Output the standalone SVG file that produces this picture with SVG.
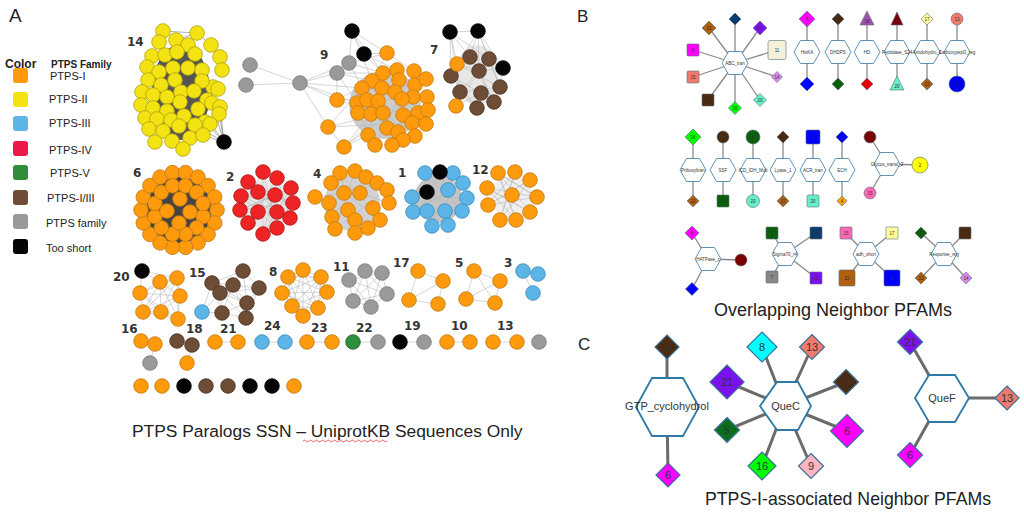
<svg xmlns="http://www.w3.org/2000/svg" xmlns:xlink="http://www.w3.org/1999/xlink" width="1024" height="517" viewBox="0 0 1024 517">
<style>
.o{fill:#FF9A0C;stroke:#C07810;stroke-width:.8}
.y{fill:#F3E312;stroke:#B0A00E;stroke-width:.8}
.b{fill:#5CB5E6;stroke:#3A8ABD;stroke-width:.8}
.r{fill:#EE2323;stroke:#A81818;stroke-width:.8}
.n{fill:#6E4D36;stroke:#48301F;stroke-width:.8}
.g{fill:#9A9A9A;stroke:#787878;stroke-width:.8}
.k{fill:#050505;stroke:#000;stroke-width:.8}
.gr{fill:#2F8E3A;stroke:#1F6427;stroke-width:.8}
.lbl{font-family:"DejaVu Sans",sans-serif;font-size:12px;font-weight:bold;fill:#333}
.leg{font-family:"Liberation Sans",Arial,sans-serif;font-size:11px;fill:#222}
.legb{font-family:"Liberation Sans",Arial,sans-serif;font-weight:bold;fill:#222}
.e{stroke:#b9b9b9;stroke-width:.6;fill:none}
.ed{stroke:#777;stroke-width:.6;fill:none}
.eb{stroke:#8a8a8a;stroke-width:1.3;fill:none}
.ec{stroke:#6b6b6b;stroke-width:3;fill:none}
.hx{fill:#fff;stroke:#4d87ad;stroke-width:.9}
.hc{fill:#fff;stroke:#2f79a6;stroke-width:1.8}
.s{stroke:#5b6b78;stroke-width:.6}
.sc{stroke:#3b6f99;stroke-width:1.2}
.t5{font-family:"Liberation Sans",Arial,sans-serif;font-size:4.5px;fill:#333;text-anchor:middle}
.t11{font-family:"Liberation Sans",Arial,sans-serif;font-size:11px;fill:#333;text-anchor:middle}
.ttl{font-family:"Liberation Sans",Arial,sans-serif;fill:#222}
</style>
<defs>
<polygon id="hb" class="hx" points="-13,0 -6.5,-11.5 6.5,-11.5 13,0 6.5,11.5 -6.5,11.5"/>
</defs>
<rect width="1024" height="517" fill="#fff"/>

<!-- panel letters and titles -->
<text class="ttl" x="9" y="22" font-size="19">A</text>
<text class="ttl" x="577" y="22" font-size="17">B</text>
<text class="ttl" x="578" y="350" font-size="17">C</text>
<text class="ttl" x="132" y="437" font-size="17.4">PTPS Paralogs SSN – UniprotKB Sequences Only</text>
<path d="M303,441 q1.5,-1.8 3,0 t3,0 t3,0 t3,0 t3,0 t3,0 t3,0 t3,0 t3,0 t3,0 t3,0 t3,0 t3,0 t3,0 t3,0 t3,0 t3,0 t3,0 t3,0 t3,0 t3,0 t3,0 t3,0 t3,0 t3,0 t3,0 t3,0 t3,0" fill="none" stroke="#e23" stroke-width=".7"/>
<text class="ttl" x="714" y="316" font-size="18">Overlapping Neighbor PFAMs</text>
<text class="ttl" x="705" y="505" font-size="17.7">PTPS-I-associated Neighbor PFAMs</text>

<!-- legend -->
<g id="legend">
<text class="legb" x="5" y="68" font-size="12">Color</text>
<text class="legb" x="51" y="68" font-size="10">PTPS Family</text>
<rect x="13" y="68" width="15" height="15" rx="3" fill="#FF9A0C"/><text class="leg" x="50" y="80">PTPS-I</text>
<rect x="13" y="92" width="15" height="15" rx="3" fill="#F3E312"/><text class="leg" x="49" y="103">PTPS-II</text>
<rect x="13" y="116" width="15" height="15" rx="3" fill="#5CB5E6"/><text class="leg" x="49" y="127">PTPS-III</text>
<rect x="13" y="141" width="15" height="15" rx="3" fill="#EC1B4B"/><text class="leg" x="49" y="154">PTPS-IV</text>
<rect x="13" y="165" width="15" height="15" rx="3" fill="#2F8E3A"/><text class="leg" x="50" y="177">PTPS-V</text>
<rect x="13" y="190" width="15" height="15" rx="3" fill="#6E4D36"/><text class="leg" x="47" y="202">PTPS-I/III</text>
<rect x="13" y="214" width="15" height="15" rx="3" fill="#9A9A9A"/><text class="leg" x="46" y="227">PTPS family</text>
<rect x="13" y="239" width="15" height="15" rx="3" fill="#050505"/><text class="leg" x="46" y="252">Too short</text>
</g>

<!-- connectors -->
<g id="connectors">
<!-- dense edge masses -->
<ellipse cx="181" cy="92" rx="29" ry="48" fill="#555"/>
<ellipse cx="385" cy="105" rx="36" ry="34" fill="#8f8f8f" opacity=".45"/>
<ellipse cx="477" cy="75" rx="22" ry="30" fill="#cfcfcf" opacity=".5"/>
<circle cx="179" cy="210" r="33" fill="#444"/>
<circle cx="267" cy="204" r="25" fill="#e8e8e8"/>
<circle cx="352" cy="203" r="28" fill="#d2d2d2"/>
<circle cx="438" cy="199" r="24" fill="#c4c4c4"/>
<circle cx="512" cy="197" r="21" fill="#efefef"/>
<!-- cluster 14 -->
<path class="ed" d="M224,142L210,123M224,142L219,113M224,142L202,135M224,142L220,107M224,142L205,122M224,142L212,103M224,142L195,125M163,31L197,33M163,31L188,45M197,33L176,40M197,33L211,45"/>
<!-- gray chain + cluster 9 -->
<path class="e" d="M250,65L300,83M246,85L300,83M300,83L337,73M300,83L349,63M300,83L337,100M300,83L357,103M300,83L362,88M300,83L328,127M337,73L349,63M337,73L383,73M337,73L372,81M349,63L387,53M349,63L383,73M352,31L364,54M352,31L349,63M352,31L383,73M352,31L372,81M352,31L387,53M364,54L387,53M364,54L383,73M364,54L397,70M349,63L362,88M337,73L357,103M337,73L337,100M328,127L362,88M328,127L383,113M328,127L344,147M344,147L368,135M344,147L383,113M337,100L383,113M337,100L372,81M387,53L414,71M387,53L372,81M426,79L399,80M428,110L403,115M426,124L395,92M413,140L387,128M392,145L403,115M375,145L358,113M344,147L371,114M337,100L402,99M328,127L412,123M357,103L426,79M362,88L427,97M344,147L413,97M375,145L414,71M392,145L382,88M426,124L367,100M403,140L372,81"/>
<!-- cluster 7 -->
<path class="e" d="M450,32L478,31M450,32L470,57M450,32L451,76M450,32L489,59M450,32L457,64M478,31L470,57M478,31L489,59M478,31L479,71M478,31L503,68M478,31L451,76M503,68L489,59M503,68L500,87M503,68L479,71M451,76L481,93M457,64L500,87M470,57L494,102M489,59L460,92M479,71L456,106M451,76L477,108M460,92L500,87M481,93L494,102M456,106L481,93M470,57L479,71M457,64L479,71M489,59L500,87M460,92L477,108M479,71L494,102M450,32L460,92M478,31L500,87"/>
<!-- cluster 2 -->
<path class="e" d="M263,172L277,228M263,172L263,234M277,178L263,234M277,178L248,223M291,188L248,223M291,188L240,210M293,203L240,210M293,203L241,196M290,218L241,196M290,218L248,182M277,228L248,182M263,172L240,210M277,178L290,218M291,188L263,234M248,182L293,203M241,196L277,228M258,192L293,203M275,195L240,210M277,212L248,182M258,212L291,188"/>
<!-- cluster 4 -->
<path class="e" d="M315,197L344,193M315,197L329,203M315,197L331,183M315,197L332,217M340,173L355,233M355,171L335,229M366,177L332,217M331,183L380,220M377,183L329,203M387,190L335,229M389,203L331,183M380,220L340,173M368,228L344,193"/>
<!-- cluster 1 -->
<path class="e" d="M425,173L448,225M453,173L432,226M463,183L413,212M412,197L467,198M467,198L427,211M462,211L425,173M445,211L453,173M413,212L463,183"/>
<!-- cluster 12 -->
<path class="e" d="M498,173L516,220M515,172L500,220M530,180L488,205M487,188L530,212M537,197L487,188M488,205L537,197M498,173L530,212M515,172L488,205M530,180L500,220M487,188L516,220M537,197L498,173M530,212L487,188M500,220L515,172M516,220L498,173M498,173L537,197M530,180L488,205"/>
<!-- cluster 20 -->
<path class="e" d="M142,271L160,282M142,271L140,293M142,271L177,278M160,282L177,278M160,282L140,293M160,282L180,296M160,282L143,312M160,282L161,312M160,282L178,319M177,278L140,293M177,278L180,296M177,278L143,312M177,278L161,312M177,278L178,319M140,293L180,296M140,293L143,312M140,293L161,312M140,293L178,319M180,296L143,312M180,296L161,312M180,296L178,319M143,312L161,312M143,312L178,319M161,312L178,319"/>
<!-- cluster 15 -->
<path class="e" d="M243,271L212,283M243,271L233,285M243,271L259,288M243,271L220,293M243,271L247,303M212,283L233,285M212,283L220,293M212,283L222,313M233,285L259,288M233,285L220,293M233,285L247,303M233,285L222,313M233,285L246,318M259,288L247,303M259,288L246,318M220,293L247,303M220,293L222,313M220,293L246,318M247,303L222,313M247,303L246,318M222,313L246,318M202,312L212,283M202,312L220,293M202,312L222,313M212,283L247,303M259,288L220,293"/>
<!-- cluster 8 -->
<path class="e" d="M303,270L288,277M303,270L321,277M303,270L282,293M303,270L327,292M303,270L292,306M303,270L318,308M303,270L303,316M288,277L321,277M288,277L282,293M288,277L327,292M288,277L292,306M288,277L318,308M288,277L303,316M321,277L282,293M321,277L327,292M321,277L292,306M321,277L318,308M321,277L303,316M282,293L327,292M282,293L292,306M282,293L318,308M282,293L303,316M327,292L292,306M327,292L318,308M327,292L303,316M292,306L318,308M292,306L303,316M318,308L303,316"/>
<!-- cluster 11 -->
<path class="e" d="M365,271L349,280M365,271L382,273M365,271L387,294M365,271L353,301M365,271L371,307M349,280L382,273M349,280L387,294M349,280L353,301M349,280L371,307M382,273L387,294M382,273L353,301M382,273L371,307M387,294L353,301M387,294L371,307M353,301L371,307"/>
<!-- clusters 17, 5, 3 -->
<path class="e" d="M418,271L443,281M418,271L409,300M443,281L438,304M409,300L438,304M409,300L443,281M474,271L500,281M474,271L466,299M474,271L495,303M500,281L466,299M466,299L495,303M500,281L495,303M523,271L538,274M523,271L533,293"/>
<!-- row 4 pairs -->
<path class="e" d="M141,341L155,344M155,344L150,363M177,341L192,345M192,345L187,363M215,342L238,342M262,342L285,342M307,342L332,342M353,342L378,342M400,342L424,342M447,342L470,342M493,342L517,342"/>
<!-- panel B edges -->
<path class="eb" d="M735,63L709,28M735,63L735,19M735,63L760,28M735,63L693,50M735,63L777,50M735,63L693,77M735,63L777,77M735,63L708,100M735,63L735,108M735,63L760,100M807,19V84M838,19V84M867,19V84M897,19V84M927,19V84M957,19V84M693,137V201M723,137V201M753,137V201M783,137V201M813,137V201M842,137V201M887,164L870,137M887,164L870,193M887,164L920,165M708,259L692,233M708,259L692,289M708,259L741,260M785,254L772,233M785,254L816,233M785,254L772,277M785,254L816,278M866,254L846,233M866,254L892,233M866,254L847,278M866,254L892,278M944,254L921,233M944,254L965,233M944,254L921,278M944,254L966,278"/>
<!-- panel C edges -->
<path class="ec" d="M667,407L667,347M667,407L668,475M785,406L762,347M785,406L812,347M785,406L727,382M785,406L846,382M785,406L727,430M785,406L847,431M785,406L762,466M785,406L811,466M942,398L910,342M942,398L1007,398M942,398L910,455"/>
</g>

<!-- Panel A nodes -->
<g id="cluster-14">
<text class="lbl" x="127" y="46">14</text>
<circle class="y" r="7.3" cx="163" cy="31"/><circle class="y" r="7.3" cx="197" cy="33"/><circle class="y" r="7.3" cx="159" cy="42"/><circle class="y" r="7.3" cx="176" cy="40"/><circle class="y" r="7.3" cx="188" cy="45"/><circle class="y" r="7.3" cx="211" cy="45"/><circle class="y" r="7.3" cx="152" cy="56"/><circle class="y" r="7.3" cx="165" cy="55"/><circle class="y" r="7.3" cx="177" cy="52"/><circle class="y" r="7.3" cx="195" cy="54"/><circle class="y" r="7.3" cx="220" cy="57"/><circle class="y" r="7.3" cx="147" cy="67"/><circle class="y" r="7.3" cx="159" cy="72"/><circle class="y" r="7.3" cx="173" cy="68"/><circle class="y" r="7.3" cx="188" cy="68"/><circle class="y" r="7.3" cx="202" cy="70"/><circle class="y" r="7.3" cx="222" cy="70"/><circle class="y" r="7.3" cx="148" cy="80"/><circle class="y" r="7.3" cx="175" cy="80"/><circle class="y" r="7.3" cx="213" cy="87"/><circle class="y" r="7.3" cx="202" cy="81"/><circle class="y" r="7.3" cx="161" cy="85"/><circle class="y" r="7.3" cx="142" cy="92"/><circle class="y" r="7.3" cx="153" cy="95"/><circle class="y" r="7.3" cx="167" cy="97"/><circle class="y" r="7.3" cx="181" cy="92"/><circle class="y" r="7.3" cx="194" cy="91"/><circle class="y" r="7.3" cx="207" cy="100"/><circle class="y" r="7.3" cx="218" cy="89"/><circle class="y" r="7.3" cx="141" cy="105"/><circle class="y" r="7.3" cx="153" cy="108"/><circle class="y" r="7.3" cx="167" cy="111"/><circle class="y" r="7.3" cx="180" cy="102"/><circle class="y" r="7.3" cx="198" cy="109"/><circle class="y" r="7.3" cx="212" cy="103"/><circle class="y" r="7.3" cx="220" cy="107"/><circle class="y" r="7.3" cx="145" cy="118"/><circle class="y" r="7.3" cx="157" cy="119"/><circle class="y" r="7.3" cx="171" cy="120"/><circle class="y" r="7.3" cx="184" cy="116"/><circle class="y" r="7.3" cx="205" cy="122"/><circle class="y" r="7.3" cx="219" cy="114"/><circle class="y" r="7.3" cx="149" cy="129"/><circle class="y" r="7.3" cx="163" cy="131"/><circle class="y" r="7.3" cx="179" cy="126"/><circle class="y" r="7.3" cx="195" cy="125"/><circle class="y" r="7.3" cx="210" cy="124"/><circle class="y" r="7.3" cx="155" cy="142"/><circle class="y" r="7.3" cx="172" cy="141"/><circle class="y" r="7.3" cx="190" cy="138"/><circle class="y" r="7.3" cx="203" cy="135"/><circle class="y" r="7.3" cx="183" cy="149"/>
<circle class="k" r="7.3" cx="224" cy="142"/>
</g>
<g id="cluster-9">
<text class="lbl" x="320" y="59">9</text>
<circle class="g" r="7.3" cx="250" cy="65"/><circle class="g" r="7.3" cx="246" cy="85"/><circle class="g" r="7.3" cx="300" cy="83"/><circle class="g" r="7.3" cx="337" cy="73"/><circle class="g" r="7.3" cx="349" cy="63"/>
<circle class="k" r="7.3" cx="352" cy="31"/><circle class="k" r="7.3" cx="364" cy="54"/>
<circle class="o" r="7.3" cx="387" cy="53"/><circle class="o" r="7.3" cx="383" cy="73"/><circle class="o" r="7.3" cx="397" cy="70"/><circle class="o" r="7.3" cx="414" cy="71"/><circle class="o" r="7.3" cx="372" cy="81"/><circle class="o" r="7.3" cx="399" cy="80"/><circle class="o" r="7.3" cx="415" cy="85"/><circle class="o" r="7.3" cx="426" cy="79"/><circle class="o" r="7.3" cx="362" cy="88"/><circle class="o" r="7.3" cx="382" cy="88"/><circle class="o" r="7.3" cx="395" cy="92"/><circle class="o" r="7.3" cx="413" cy="97"/><circle class="o" r="7.3" cx="427" cy="97"/><circle class="o" r="7.3" cx="337" cy="100"/><circle class="o" r="7.3" cx="357" cy="103"/><circle class="o" r="7.3" cx="367" cy="100"/><circle class="o" r="7.3" cx="378" cy="101"/><circle class="o" r="7.3" cx="402" cy="99"/><circle class="o" r="7.3" cx="358" cy="113"/><circle class="o" r="7.3" cx="371" cy="114"/><circle class="o" r="7.3" cx="383" cy="113"/><circle class="o" r="7.3" cx="403" cy="115"/><circle class="o" r="7.3" cx="418" cy="113"/><circle class="o" r="7.3" cx="428" cy="110"/><circle class="o" r="7.3" cx="328" cy="127"/><circle class="o" r="7.3" cx="387" cy="128"/><circle class="o" r="7.3" cx="398" cy="132"/><circle class="o" r="7.3" cx="412" cy="123"/><circle class="o" r="7.3" cx="426" cy="124"/><circle class="o" r="7.3" cx="368" cy="135"/><circle class="o" r="7.3" cx="415" cy="136"/><circle class="o" r="7.3" cx="403" cy="140"/><circle class="o" r="7.3" cx="344" cy="147"/><circle class="o" r="7.3" cx="375" cy="145"/><circle class="o" r="7.3" cx="392" cy="145"/>
</g>
<g id="cluster-7">
<text class="lbl" x="430" y="54">7</text>
<circle class="k" r="7.3" cx="450" cy="32"/><circle class="k" r="7.3" cx="478" cy="31"/><circle class="k" r="7.3" cx="503" cy="68"/>
<circle class="n" r="7.3" cx="470" cy="57"/><circle class="n" r="7.3" cx="489" cy="59"/><circle class="n" r="7.3" cx="451" cy="76"/><circle class="n" r="7.3" cx="479" cy="71"/><circle class="n" r="7.3" cx="460" cy="92"/><circle class="n" r="7.3" cx="481" cy="93"/><circle class="n" r="7.3" cx="500" cy="87"/><circle class="n" r="7.3" cx="494" cy="102"/><circle class="n" r="7.3" cx="477" cy="108"/>
<circle class="o" r="7.3" cx="457" cy="64"/><circle class="o" r="7.3" cx="456" cy="106"/>
</g>
<g id="cluster-6">
<text class="lbl" x="133" y="177">6</text>
<circle class="o" r="7.3" cx="217" cy="210"/><circle class="o" r="7.3" cx="214.7" cy="223"/><circle class="o" r="7.3" cx="208.1" cy="234.4"/><circle class="o" r="7.3" cx="198" cy="242.9"/><circle class="o" r="7.3" cx="185.6" cy="247.4"/><circle class="o" r="7.3" cx="172.4" cy="247.4"/><circle class="o" r="7.3" cx="160" cy="242.9"/><circle class="o" r="7.3" cx="149.9" cy="234.4"/><circle class="o" r="7.3" cx="143.3" cy="223"/><circle class="o" r="7.3" cx="141" cy="210"/><circle class="o" r="7.3" cx="143.3" cy="197"/><circle class="o" r="7.3" cx="149.9" cy="185.6"/><circle class="o" r="7.3" cx="160" cy="177.1"/><circle class="o" r="7.3" cx="172.4" cy="172.6"/><circle class="o" r="7.3" cx="185.6" cy="172.6"/><circle class="o" r="7.3" cx="198" cy="177.1"/><circle class="o" r="7.3" cx="208.1" cy="185.6"/><circle class="o" r="7.3" cx="214.7" cy="197"/>
<circle class="o" r="7.3" cx="203.1" cy="216.5"/><circle class="o" r="7.3" cx="196.7" cy="227.7"/><circle class="o" r="7.3" cx="185.5" cy="234.1"/><circle class="o" r="7.3" cx="172.5" cy="234.1"/><circle class="o" r="7.3" cx="161.3" cy="227.7"/><circle class="o" r="7.3" cx="154.9" cy="216.5"/><circle class="o" r="7.3" cx="154.9" cy="203.5"/><circle class="o" r="7.3" cx="161.3" cy="192.3"/><circle class="o" r="7.3" cx="172.5" cy="185.9"/><circle class="o" r="7.3" cx="185.5" cy="185.9"/><circle class="o" r="7.3" cx="196.7" cy="192.3"/><circle class="o" r="7.3" cx="203.1" cy="203.5"/>
<circle class="o" r="7.3" cx="190" cy="212"/><circle class="o" r="7.3" cx="179" cy="223"/><circle class="o" r="7.3" cx="167" cy="211"/><circle class="o" r="7.3" cx="180" cy="199"/>
</g>
<g id="cluster-2">
<text class="lbl" x="226" y="181">2</text>
<circle class="r" r="7.3" cx="263" cy="172"/><circle class="r" r="7.3" cx="277" cy="178"/><circle class="r" r="7.3" cx="291" cy="188"/><circle class="r" r="7.3" cx="293" cy="203"/><circle class="r" r="7.3" cx="290" cy="218"/><circle class="r" r="7.3" cx="277" cy="228"/><circle class="r" r="7.3" cx="263" cy="234"/><circle class="r" r="7.3" cx="248" cy="223"/><circle class="r" r="7.3" cx="240" cy="210"/><circle class="r" r="7.3" cx="241" cy="196"/><circle class="r" r="7.3" cx="248" cy="182"/><circle class="r" r="7.3" cx="258" cy="192"/><circle class="r" r="7.3" cx="275" cy="195"/><circle class="r" r="7.3" cx="277" cy="212"/><circle class="r" r="7.3" cx="258" cy="212"/>
</g>
<g id="cluster-4">
<text class="lbl" x="313" y="178">4</text>
<circle class="o" r="7.3" cx="340" cy="173"/><circle class="o" r="7.3" cx="355" cy="171"/><circle class="o" r="7.3" cx="366" cy="177"/><circle class="o" r="7.3" cx="331" cy="183"/><circle class="o" r="7.3" cx="377" cy="183"/><circle class="o" r="7.3" cx="387" cy="190"/><circle class="o" r="7.3" cx="315" cy="197"/><circle class="o" r="7.3" cx="344" cy="193"/><circle class="o" r="7.3" cx="360" cy="193"/><circle class="o" r="7.3" cx="389" cy="203"/><circle class="o" r="7.3" cx="329" cy="203"/><circle class="o" r="7.3" cx="348" cy="210"/><circle class="o" r="7.3" cx="373" cy="208"/><circle class="o" r="7.3" cx="332" cy="217"/><circle class="o" r="7.3" cx="380" cy="220"/><circle class="o" r="7.3" cx="355" cy="220"/><circle class="o" r="7.3" cx="335" cy="229"/><circle class="o" r="7.3" cx="355" cy="233"/><circle class="o" r="7.3" cx="368" cy="228"/>
</g>
<g id="cluster-1">
<text class="lbl" x="398" y="177">1</text>
<circle class="b" r="7.3" cx="425" cy="173"/><circle class="b" r="7.3" cx="453" cy="173"/><circle class="b" r="7.3" cx="463" cy="183"/><circle class="b" r="7.3" cx="412" cy="197"/><circle class="b" r="7.3" cx="448" cy="190"/><circle class="b" r="7.3" cx="467" cy="198"/><circle class="b" r="7.3" cx="413" cy="212"/><circle class="b" r="7.3" cx="427" cy="211"/><circle class="b" r="7.3" cx="445" cy="211"/><circle class="b" r="7.3" cx="462" cy="211"/><circle class="b" r="7.3" cx="432" cy="226"/><circle class="b" r="7.3" cx="448" cy="225"/>
<circle class="k" r="7.3" cx="440" cy="172"/><circle class="k" r="7.3" cx="427" cy="192"/>
</g>
<g id="cluster-12">
<text class="lbl" x="472" y="174">12</text>
<circle class="o" r="7.3" cx="498" cy="173"/><circle class="o" r="7.3" cx="515" cy="172"/><circle class="o" r="7.3" cx="530" cy="180"/><circle class="o" r="7.3" cx="487" cy="188"/><circle class="o" r="7.3" cx="537" cy="197"/><circle class="o" r="7.3" cx="488" cy="205"/><circle class="o" r="7.3" cx="530" cy="212"/><circle class="o" r="7.3" cx="500" cy="220"/><circle class="o" r="7.3" cx="516" cy="220"/><circle class="o" r="7.3" cx="512" cy="195"/>
</g>
<g id="cluster-20">
<text class="lbl" x="113" y="281">20</text>
<circle class="k" r="7.3" cx="142" cy="271"/>
<circle class="o" r="7.3" cx="160" cy="282"/><circle class="o" r="7.3" cx="177" cy="278"/><circle class="o" r="7.3" cx="140" cy="293"/><circle class="o" r="7.3" cx="180" cy="296"/><circle class="o" r="7.3" cx="143" cy="312"/><circle class="o" r="7.3" cx="161" cy="312"/><circle class="o" r="7.3" cx="178" cy="319"/>
</g>
<g id="cluster-15">
<text class="lbl" x="189" y="277">15</text>
<circle class="n" r="7.3" cx="243" cy="271"/><circle class="n" r="7.3" cx="212" cy="283"/><circle class="n" r="7.3" cx="233" cy="285"/><circle class="n" r="7.3" cx="259" cy="288"/><circle class="n" r="7.3" cx="220" cy="293"/><circle class="n" r="7.3" cx="247" cy="303"/><circle class="n" r="7.3" cx="222" cy="313"/><circle class="n" r="7.3" cx="246" cy="318"/>
<circle class="b" r="7.3" cx="202" cy="312"/>
</g>
<g id="cluster-8">
<text class="lbl" x="269" y="276">8</text>
<circle class="o" r="7.3" cx="303" cy="270"/><circle class="o" r="7.3" cx="288" cy="277"/><circle class="o" r="7.3" cx="321" cy="277"/><circle class="o" r="7.3" cx="282" cy="293"/><circle class="o" r="7.3" cx="327" cy="292"/><circle class="o" r="7.3" cx="292" cy="306"/><circle class="o" r="7.3" cx="318" cy="308"/><circle class="o" r="7.3" cx="303" cy="316"/>
</g>
<g id="cluster-11">
<text class="lbl" x="333" y="271">11</text>
<circle class="g" r="7.3" cx="365" cy="271"/><circle class="g" r="7.3" cx="349" cy="280"/><circle class="g" r="7.3" cx="382" cy="273"/><circle class="g" r="7.3" cx="387" cy="294"/><circle class="g" r="7.3" cx="353" cy="301"/><circle class="g" r="7.3" cx="371" cy="307"/>
</g>
<g id="cluster-17">
<text class="lbl" x="393" y="267">17</text>
<circle class="o" r="7.3" cx="418" cy="271"/><circle class="o" r="7.3" cx="443" cy="281"/><circle class="o" r="7.3" cx="409" cy="300"/><circle class="o" r="7.3" cx="438" cy="304"/>
</g>
<g id="cluster-5">
<text class="lbl" x="455" y="267">5</text>
<circle class="o" r="7.3" cx="474" cy="271"/><circle class="o" r="7.3" cx="500" cy="281"/><circle class="o" r="7.3" cx="466" cy="299"/><circle class="o" r="7.3" cx="495" cy="303"/>
</g>
<g id="cluster-3">
<text class="lbl" x="504" y="267">3</text>
<circle class="b" r="7.3" cx="523" cy="271"/><circle class="b" r="7.3" cx="538" cy="274"/><circle class="b" r="7.3" cx="533" cy="293"/>
</g>
<g id="small-clusters">
<text class="lbl" x="121" y="333">16</text><text class="lbl" x="186" y="333">18</text><text class="lbl" x="220" y="333">21</text><text class="lbl" x="264" y="330">24</text><text class="lbl" x="311" y="332">23</text><text class="lbl" x="356" y="332">22</text><text class="lbl" x="404" y="330">19</text><text class="lbl" x="451" y="330">10</text><text class="lbl" x="497" y="330">13</text>
<circle class="o" r="7.3" cx="141" cy="341"/><circle class="o" r="7.3" cx="155" cy="344"/><circle class="g" r="7.3" cx="150" cy="363"/>
<circle class="n" r="7.3" cx="177" cy="341"/><circle class="n" r="7.3" cx="192" cy="345"/><circle class="o" r="7.3" cx="187" cy="363"/>
<circle class="o" r="7.3" cx="215" cy="342"/><circle class="o" r="7.3" cx="238" cy="342"/>
<circle class="b" r="7.3" cx="262" cy="342"/><circle class="b" r="7.3" cx="285" cy="342"/>
<circle class="o" r="7.3" cx="307" cy="342"/><circle class="o" r="7.3" cx="332" cy="342"/>
<circle class="gr" r="7.3" cx="353" cy="342"/><circle class="g" r="7.3" cx="378" cy="342"/>
<circle class="k" r="7.3" cx="400" cy="342"/><circle class="g" r="7.3" cx="424" cy="342"/>
<circle class="o" r="7.3" cx="447" cy="342"/><circle class="o" r="7.3" cx="470" cy="342"/>
<circle class="o" r="7.3" cx="493" cy="342"/><circle class="o" r="7.3" cx="517" cy="342"/>
<circle class="g" r="7.3" cx="539" cy="342"/>
</g>
<g id="singletons">
<circle class="o" r="7.3" cx="141" cy="386"/><circle class="o" r="7.3" cx="162" cy="386"/><circle class="k" r="7.3" cx="184" cy="386"/><circle class="n" r="7.3" cx="206" cy="386"/><circle class="n" r="7.3" cx="228" cy="386"/><circle class="k" r="7.3" cx="250" cy="386"/><circle class="k" r="7.3" cx="272" cy="386"/><circle class="o" r="7.3" cx="294" cy="386"/>
</g>

<!-- Panel B nodes -->
<g id="b-abc-tran">
<polygon class="s" fill="#B0600F" points="709,21 716,28 709,35 702,28"/><text class="t5" x="709" y="29.5">22</text>
<polygon class="s" fill="#0A3D6B" points="735,13 741,19 735,25 729,19"/>
<polygon class="s" fill="#7B10F0" points="760,21 767,28 760,35 753,28"/><text class="t5" x="760" y="29.5">21</text>
<rect class="s" fill="#FF00FF" x="687" y="44" width="12" height="12" rx="1"/><text class="t5" x="693" y="51.5">6</text>
<rect class="s" fill="#F5F0D8" x="768" y="40.5" width="18" height="19" rx="2" stroke="#6a8a9a" stroke-width="1"/><text class="t5" x="777" y="51.5">11</text>
<rect class="s" fill="#F07A6E" x="687" y="71" width="12" height="12" rx="1"/><text class="t5" x="693" y="78.5">15</text>
<polygon class="s" fill="#DD88EE" points="777,71.5 782.5,77 777,82.5 771.5,77"/><text class="t5" x="777" y="78.5">14</text>
<rect class="s" fill="#4B2A0F" x="702" y="94" width="12" height="12" rx="1"/><text class="t5" x="708" y="101.5">23</text>
<polygon class="s" fill="#00FF00" points="735,101.5 741.5,108 735,114.5 728.5,108"/><text class="t5" x="735" y="109.5">16</text>
<polygon class="s" fill="#66EEC8" points="760,93.5 766.5,100 760,106.5 753.5,100"/><text class="t5" x="760" y="101.5">20</text>
<use href="#hb" x="735" y="63"/><text class="t5" x="735" y="64.5">ABC_tran</text>
</g>
<g id="b-hiska">
<polygon class="s" fill="#FF00FF" points="807,11 815,19 807,27 799,19"/><text class="t5" x="807" y="20.5">6</text>
<polygon class="s" fill="#0000FF" points="807,77 814,84 807,91 800,84"/>
<use href="#hb" x="807" y="52"/><text class="t5" x="807" y="53.5">HisKA</text>
</g>
<g id="b-dhdps">
<polygon class="s" fill="#4B2A0F" points="838,13 844,19 838,25 832,19"/><text class="t5" x="838" y="20.5">23</text>
<polygon class="s" fill="#0B5E0B" points="838,78 844,84 838,90 832,84"/>
<use href="#hb" x="838" y="52"/><text class="t5" x="838" y="53.5">DHDPS</text>
</g>
<g id="b-hd">
<polygon class="s" fill="#A050B0" points="867,11 874,25 860,25"/><text class="t5" x="867" y="22.5">18</text>
<polygon class="s" fill="#EE0000" points="867,78 873,84 867,90 861,84"/><text class="t5" x="867" y="85.5">1</text>
<use href="#hb" x="867" y="52"/><text class="t5" x="867" y="53.5">HD</text>
</g>
<g id="b-peptidase">
<polygon class="s" fill="#7A0010" points="897,12 903,25 891,25"/>
<polygon class="s" fill="#66EEC8" points="897,76 904,90 890,90"/><text class="t5" x="897" y="87.5">20</text>
<use href="#hb" x="897" y="52"/><text class="t5" x="897" y="53.5">Peptidase_S24</text>
</g>
<g id="b-amidohydro">
<polygon class="s" fill="#FFFF99" points="927,13 933,19 927,25 921,19"/><text class="t5" x="927" y="20.5">17</text>
<polygon class="s" fill="#B0600F" points="927,78 933,84 927,90 921,84"/><text class="t5" x="927" y="85.5">22</text>
<use href="#hb" x="927" y="52"/><text class="t5" x="927" y="53.5">Amidohydro_1</text>
</g>
<g id="b-carboxypepd">
<circle class="s" fill="#F07A6E" cx="957" cy="19" r="6"/><text class="t5" x="957" y="20.5">13</text>
<circle class="s" fill="#0000EE" cx="957" cy="84" r="8"/><text class="t5" x="957" y="85.5">1</text>
<use href="#hb" x="957" y="52"/><text class="t5" x="957" y="53.5">CarboxypepD_reg</text>
</g>
<g id="b-pribosyltran">
<polygon class="s" fill="#00FF00" points="693,129 701,137 693,145 685,137"/><text class="t5" x="693" y="138.5">16</text>
<polygon class="s" fill="#B0600F" points="693,195 699,201 693,207 687,201"/><text class="t5" x="693" y="202.5">22</text>
<use href="#hb" x="693" y="170"/><text class="t5" x="693" y="171.5">Pribosyltran</text>
</g>
<g id="b-ssf">
<circle class="s" fill="#4B2A0F" cx="723" cy="137" r="6"/><text class="t5" x="723" y="138.5">23</text>
<rect class="s" fill="#0B5E0B" x="717" y="195" width="12" height="12" rx="1"/><text class="t5" x="723" y="202.5">5</text>
<use href="#hb" x="723" y="170"/><text class="t5" x="723" y="171.5">SSF</text>
</g>
<g id="b-icd">
<circle class="s" fill="#0B5E0B" cx="753" cy="137" r="7"/><text class="t5" x="753" y="138.5">5</text>
<circle class="s" fill="#66EEC8" cx="753" cy="201" r="6.5"/><text class="t5" x="753" y="202.5">20</text>
<use href="#hb" x="753" y="170"/><text class="t5" x="753" y="171.5">ICD_IDH_Mult</text>
</g>
<g id="b-lyase">
<polygon class="s" fill="#4B2A0F" points="783,131 789,137 783,143 777,137"/><text class="t5" x="783" y="138.5">23</text>
<polygon class="s" fill="#B0600F" points="783,195 789,201 783,207 777,201"/><text class="t5" x="783" y="202.5">22</text>
<use href="#hb" x="783" y="170"/><text class="t5" x="783" y="171.5">Lyase_1</text>
</g>
<g id="b-acr-tran">
<rect class="s" fill="#0000FF" x="806" y="130" width="14" height="14" rx="1.5"/><text class="t5" x="813" y="138.5">1</text>
<rect class="s" fill="#66EEC8" x="807" y="195" width="12" height="12" rx="1.5"/><text class="t5" x="813" y="202.5">20</text>
<use href="#hb" x="813" y="170"/><text class="t5" x="813" y="171.5">ACR_tran</text>
</g>
<g id="b-ech">
<polygon class="s" fill="#0000FF" points="842,131 848,137 842,143 836,137"/><text class="t5" x="842" y="138.5">1</text>
<polygon class="s" fill="#FFA500" points="842,196 847,201 842,206 837,201"/><text class="t5" x="842" y="202.5">4</text>
<use href="#hb" x="842" y="170"/><text class="t5" x="842" y="171.5">ECH</text>
</g>
<g id="b-glycos">
<circle class="s" fill="#7A0000" cx="870" cy="137" r="6"/>
<circle class="s" fill="#FF69B4" cx="870" cy="193" r="6"/><text class="t5" x="870" y="194.5">15</text>
<circle class="s" fill="#FFFF00" cx="920" cy="165" r="8"/><text class="t5" x="920" y="166.5">2</text>
<use href="#hb" x="887" y="164"/><text class="t5" x="887" y="165.5">Glycos_transf_2</text>
</g>
<g id="b-hatpase">
<polygon class="s" fill="#FF00FF" points="692,226 699,233 692,240 685,233"/><text class="t5" x="692" y="234.5">6</text>
<polygon class="s" fill="#0000FF" points="692,282.5 698.5,289 692,295.5 685.5,289"/>
<circle class="s" fill="#7A0000" cx="741" cy="260" r="6"/>
<use href="#hb" x="708" y="259"/><text class="t5" x="708" y="260.5">HATPase_c</text>
</g>
<g id="b-sigma70">
<rect class="s" fill="#0B5E0B" x="766" y="227" width="12" height="12" rx="1"/><text class="t5" x="772" y="234.5">5</text>
<rect class="s" fill="#0A3D6B" x="810" y="227" width="12" height="12" rx="1"/><text class="t5" x="816" y="234.5">19</text>
<rect class="s" fill="#888" x="766" y="271" width="12" height="12" rx="1"/><text class="t5" x="772" y="278.5">7</text>
<rect class="s" fill="#7B10F0" x="810" y="272" width="12" height="12" rx="1"/><text class="t5" x="816" y="279.5">21</text>
<use href="#hb" x="785" y="254"/><text class="t5" x="785" y="255.5">Sigma70_r4</text>
</g>
<g id="b-adh-short">
<rect class="s" fill="#FF69B4" x="840" y="227" width="12" height="12" rx="1"/><text class="t5" x="846" y="234.5">15</text>
<rect class="s" fill="#FFFF99" x="886" y="227" width="12" height="12" rx="1"/><text class="t5" x="892" y="234.5">17</text>
<rect class="s" fill="#B0600F" x="839" y="270" width="16" height="16" rx="1.5"/><text class="t5" x="847" y="279.5">22</text>
<rect class="s" fill="#0000FF" x="884" y="270" width="16" height="16" rx="1.5"/><text class="t5" x="892" y="279.5">1</text>
<use href="#hb" x="866" y="254"/><text class="t5" x="866" y="255.5">adh_short</text>
</g>
<g id="b-response-reg">
<polygon class="s" fill="#0B5E0B" points="921,227 927,233 921,239 915,233"/><text class="t5" x="921" y="234.5">5</text>
<rect class="s" fill="#4B2A0F" x="959" y="227" width="12" height="12" rx="1"/><text class="t5" x="965" y="234.5">23</text>
<polygon class="s" fill="#B0600F" points="921,272 927,278 921,284 915,278"/><text class="t5" x="921" y="279.5">22</text>
<polygon class="s" fill="#DD88EE" points="966,272 972,278 966,284 960,278"/><text class="t5" x="966" y="279.5">14</text>
<use href="#hb" x="944" y="254"/><text class="t5" x="944" y="255.5">Response_reg</text>
</g>

<!-- Panel C nodes -->
<g id="c-gtp-cyclohydrol">
<polygon class="sc" fill="#4B2A0F" points="667,335 679,347 667,359 655,347"/><text class="t11" x="667" y="351" fill="#1a1a1a">23</text>
<polygon class="sc" fill="#FF00FF" points="668,463 680,475 668,487 656,475"/><text class="t11" x="668" y="479">6</text>
<polygon class="hc" points="636,407 652,378 683,378 699,407 683,436 652,436"/>
<text class="t11" x="667" y="410" font-size="9.6">GTP_cyclohydrol</text>
</g>
<g id="c-quec">
<polygon class="sc" fill="#00FFFF" points="762,332 777,347 762,362 747,347"/><text class="t11" x="762" y="351">8</text>
<polygon class="sc" fill="#F07A6E" points="812,334.5 824.5,347 812,359.5 799.5,347"/><text class="t11" x="812" y="351">13</text>
<polygon class="sc" fill="#7B10F0" points="727,365 744,382 727,399 710,382"/><text class="t11" x="727" y="386">21</text>
<polygon class="sc" fill="#4B2A0F" points="846,369.5 858.5,382 846,394.5 833.5,382"/><text class="t11" x="846" y="386">23</text>
<polygon class="sc" fill="#0B6E1B" points="727,417.5 739.5,430 727,442.5 714.5,430"/><text class="t11" x="727" y="434">5</text>
<polygon class="sc" fill="#FF00FF" points="847,414.5 863.5,431 847,447.5 830.5,431"/><text class="t11" x="847" y="435">6</text>
<polygon class="sc" fill="#00FF00" points="762,452 776,466 762,480 748,466"/><text class="t11" x="762" y="470">16</text>
<polygon class="sc" fill="#FFB6C1" points="811,453.5 823.5,466 811,478.5 798.5,466"/><text class="t11" x="811" y="470">9</text>
<polygon class="hc" points="760,406 777,382 798,382 811,406 798,430 777,430"/>
<text class="t11" x="785.5" y="410" font-size="10">QueC</text>
</g>
<g id="c-quef">
<polygon class="sc" fill="#7B10F0" points="910,329.5 922.5,342 910,354.5 897.5,342"/><text class="t11" x="910" y="346">21</text>
<polygon class="sc" fill="#F07A6E" points="1007,386 1019,398 1007,410 995,398"/><text class="t11" x="1007" y="402">13</text>
<polygon class="sc" fill="#FF00FF" points="910,442.5 922.5,455 910,467.5 897.5,455"/><text class="t11" x="910" y="459">6</text>
<polygon class="hc" points="915,398 929,375 955,375 969,398 955,422 929,422"/>
<text class="t11" x="942" y="402" font-size="10">QueF</text>
</g>
</svg>
